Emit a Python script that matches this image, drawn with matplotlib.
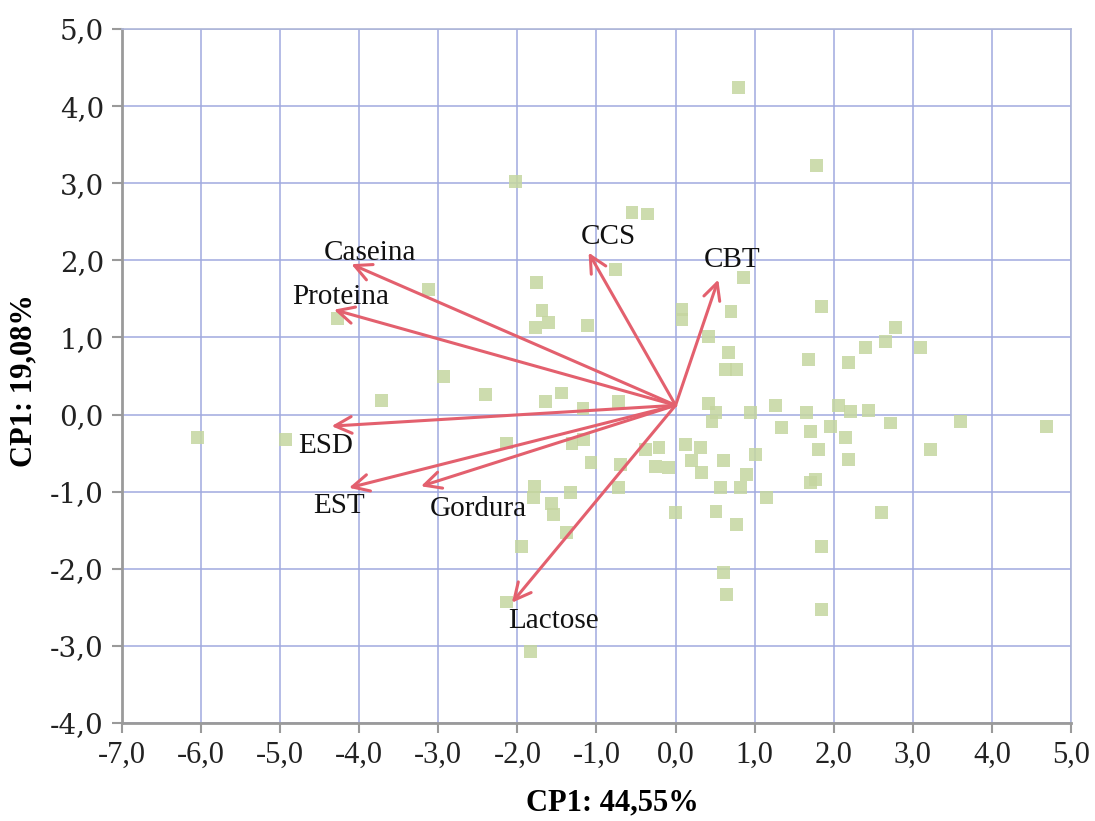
import matplotlib
matplotlib.use("Agg")
import matplotlib.pyplot as plt

# scores (CP1, CP2)
score_x = [-6.05, -4.93, -4.28, -3.72, -3.12, -2.93, -2.40, -2.02, -2.14, -2.14,
           -1.83, -1.95, -1.76, -1.69, -1.61, -1.77, -1.11, -0.76, -0.55, -0.36,
           -1.64, -1.44, -1.17, -0.72, -1.31, -1.16, -1.07, -0.70, -0.72, -1.78,
           -1.80, -1.57, -1.54, -1.33, -1.38, -0.38, -0.21, -0.25, -0.09, 0.00,
           0.08, 0.08, 0.70, 0.86, 0.42, 0.67, 0.63, 0.77, 1.85, 1.68,
           2.19, 2.40, 2.65, 2.78, 3.10, 0.80, 1.78, 0.42, 0.51, 0.46,
           0.95, 1.26, 1.66, 2.06, 2.21, 2.44, 1.34, 1.71, 1.96, 2.15,
           1.81, 2.19, 2.72, 3.22, 3.60, 4.69, 0.13, 0.32, 0.20, 0.61,
           1.01, 0.33, 0.90, 0.57, 0.82, 1.77, 1.71, 1.15, 0.51, 0.77,
           2.60, 1.85, 0.61, 0.64, 1.85]
score_y = [-0.30, -0.32, 1.25, 0.18, 1.62, 0.49, 0.26, 3.02, -0.37, -2.43,
           -3.07, -1.71, 1.71, 1.35, 1.19, 1.13, 1.15, 1.88, 2.62, 2.60,
           0.17, 0.28, 0.08, 0.17, -0.38, -0.32, -0.62, -0.65, -0.95, -0.93,
           -1.08, -1.15, -1.30, -1.01, -1.53, -0.45, -0.43, -0.67, -0.69, -1.27,
           1.36, 1.23, 1.34, 1.78, 1.01, 0.80, 0.58, 0.58, 1.40, 0.71,
           0.67, 0.87, 0.95, 1.13, 0.87, 4.24, 3.23, 0.14, 0.03, -0.09,
           0.03, 0.12, 0.03, 0.12, 0.04, 0.05, -0.17, -0.22, -0.15, -0.30,
           -0.45, -0.58, -0.11, -0.45, -0.09, -0.15, -0.39, -0.43, -0.60, -0.60,
           -0.52, -0.75, -0.78, -0.95, -0.95, -0.84, -0.88, -1.08, -1.26, -1.43,
           -1.27, -1.71, -2.05, -2.33, -2.53]

# loadings (arrow tips) and label positions
variables = ["Caseina", "Proteina", "CCS", "CBT", "ESD", "EST", "Gordura", "Lactose"]
load_x = [-4.10, -4.32, -1.10, 0.54, -4.35, -4.13, -3.22, -2.07]
load_y = [1.95, 1.36, 2.10, 1.75, -0.15, -0.95, -0.93, -2.44]
label_x = [-3.86, -4.24, -0.85, 0.71, -4.42, -4.26, -2.49, -1.54]
label_y = [2.10, 1.53, 2.30, 2.01, -0.41, -1.19, -1.23, -2.68]
origin = (0.0, 0.12)

xticks = [-7, -6, -5, -4, -3, -2, -1, 0, 1, 2, 3, 4, 5]
yticks = [-4, -3, -2, -1, 0, 1, 2, 3, 4, 5]

fig = plt.figure(figsize=(10.95, 8.21), dpi=100)
ax = fig.add_axes([122 / 1095, 1 - 723 / 821, 949 / 1095, 694 / 821])

ax.scatter(score_x, score_y, marker="s", s=85, color="#c5d6a0", alpha=0.85,
           edgecolors="none", zorder=2)

for name, lx, ly, tx, ty in zip(variables, load_x, load_y, label_x, label_y):
    ax.annotate("", xy=(lx, ly), xytext=origin,
                arrowprops=dict(arrowstyle="->", color="#e3606e", lw=2.2,
                                mutation_scale=30, shrinkA=0, shrinkB=0),
                zorder=3)
    ax.text(tx, ty, name, fontsize=21, family="Liberation Serif",
            ha="center", va="center", color="#111111", zorder=4)

ax.set_xlim(-7, 5)
ax.set_ylim(-4, 5)
ax.set_xticks(xticks)
ax.set_yticks(yticks)
ax.set_xticklabels([f"{v:.1f}".replace(".", ",") for v in xticks],
                   family="Liberation Serif", fontsize=22)
ax.set_yticklabels([f"{v:.1f}".replace(".", ",") for v in yticks],
                   family="DejaVu Serif", fontsize=20)
ax.grid(True, color="#a0aadf", lw=1.1, zorder=0)
ax.set_axisbelow(True)

for side in ["left", "bottom"]:
    ax.spines[side].set_color("#9a9a9a")
    ax.spines[side].set_linewidth(2)
for side in ["top", "right"]:
    ax.spines[side].set_color("#aeb6d8")
    ax.spines[side].set_linewidth(1.2)
ax.tick_params(axis="both", direction="out", length=7, width=1.5,
               color="#9a9a9a", labelcolor="#222222", pad=6)

fig.text(612 / 1095, 1 - 803 / 821, "CP1: 44,55%", family="Liberation Serif",
         fontsize=22, fontweight="bold", ha="center", va="center")
fig.text(24 / 1095, 1 - 381 / 821, "CP1: 19,08%", family="Liberation Serif",
         fontsize=22, fontweight="bold", ha="center", va="center", rotation=90)

fig.savefig("out.png", dpi=100)
